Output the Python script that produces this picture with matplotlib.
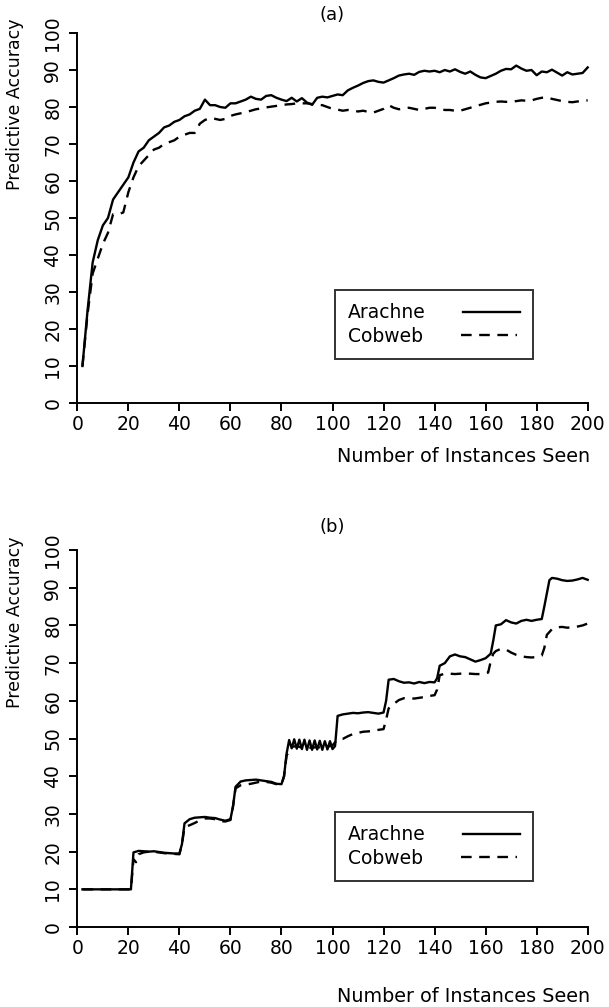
import matplotlib

matplotlib.use("Agg")

import matplotlib.pyplot as plt
import numpy as np


# (a) learning curves, sampled every 2 instances
TOP_X = list(range(2, 201, 2))
TOP_ARACHNE = [
    10, 25, 38, 44, 48, 50, 55, 57, 59, 61,
    65, 68, 69, 71, 72, 73, 74.5, 75, 76, 76.5,
    77.5, 78, 79, 79.5, 82, 80.5, 80.5, 80, 79.8, 81,
    81, 81.5, 82, 82.8, 82.2, 82, 83, 83.2, 82.5, 82,
    81.6, 82.5, 81.5, 82.4, 81.2, 80.6, 82.5, 82.8, 82.6, 83,
    83.4, 83.2, 84.5, 85.2, 85.8, 86.5, 87, 87.2, 86.8, 86.6,
    87.2, 87.8, 88.5, 88.8, 89, 88.7, 89.5, 89.8, 89.6, 89.8,
    89.4, 90, 89.6, 90.2, 89.5, 89, 89.6, 88.7, 88, 87.8,
    88.4, 89, 89.8, 90.3, 90.2, 91.2, 90.4, 89.8, 90, 88.6,
    89.6, 89.4, 90.1, 89.3, 88.5, 89.4, 88.8, 89, 89.2, 90.7,
]
TOP_COBWEB = [
    10, 24, 35, 39, 43, 46, 51, 51, 51.5, 57,
    61, 64, 65.5, 67, 68.5, 69, 70, 70.5, 71, 72,
    72.5, 73, 73, 75.5, 76.5, 77, 76.8, 76.5, 76.8, 77.6,
    78, 78.3, 78.6, 79, 79.4, 79.6, 79.9, 80.1, 80.3, 80.5,
    80.7, 80.8, 81, 81, 81, 80.8, 80.6, 80.5, 80, 79.5,
    79.3, 79, 79.2, 79, 78.8, 79, 78.7, 78.5, 79, 79.5,
    80.5, 79.8, 79.4, 79.6, 79.8, 79.5, 79.2, 79.5, 79.8, 79.8,
    79.5, 79.2, 79.2, 79, 79, 79.4, 79.8, 80.3, 80.6, 81,
    81.2, 81.4, 81.5, 81.4, 81.4, 81.6, 81.8, 81.7, 81.8, 82.2,
    82.5, 82.6, 82.2, 81.9, 81.6, 81.4, 81.3, 81.5, 81.7, 81.8,
]

# (b) staircase curves
BOT_ARACHNE_X = [
    2, 21, 22, 24, 26, 28, 30, 32, 34, 36, 38, 40,
    41, 42, 44, 46, 48, 50, 52, 54, 56, 58, 60,
    61, 62, 64, 66, 68, 70, 72, 74, 76, 78, 80,
    81, 82, 83, 84, 85, 86, 87, 88, 89, 90, 91, 92, 93, 94, 95, 96, 97, 98, 99, 100,
    101, 102, 104, 106, 108, 110, 112, 114, 116, 118, 120,
    121, 122, 124, 126, 128, 130, 132, 134, 136, 138, 140,
    141, 142, 144, 146, 148, 150, 152, 154, 156, 158, 160, 162,
    163, 164, 166, 168, 170, 172, 174, 176, 178, 180, 182,
    183, 185, 186, 188, 190, 192, 194, 196, 198, 200,
]
BOT_ARACHNE = [
    10, 10, 19.8, 20.2, 20.1, 20.0, 20.1, 19.9, 19.7, 19.6, 19.5, 19.5,
    22, 27.5, 28.6, 29.0, 29.1, 29.2, 29.0, 28.9, 28.5, 28.2, 28.6,
    32, 37.2, 38.6, 38.9, 39.0, 39.1, 38.9, 38.7, 38.5, 38.0, 37.9,
    40, 46, 49.6, 47.4, 49.8, 47.3, 49.7, 47.2, 49.7, 47.0, 49.5, 47.0, 49.5, 47.1, 49.4, 47.0, 49.3, 47.1, 49.3, 47.2,
    48, 56.0, 56.4, 56.6, 56.8, 56.7, 56.9, 57.0, 56.8, 56.6, 56.9,
    60, 65.6, 65.8, 65.2, 64.8, 64.9, 64.6, 65.0, 64.7, 65.0, 64.9,
    66, 69.3, 70.0, 71.8, 72.3, 71.8, 71.6, 71.0, 70.4, 70.8, 71.3, 72.5,
    76, 80.0, 80.3, 81.4, 80.8, 80.5, 81.2, 81.5, 81.2, 81.5, 81.7,
    85, 92.0, 92.6, 92.4, 92.0, 91.8, 91.9, 92.2, 92.6, 92.1,
]
BOT_COBWEB_X = [
    2, 21, 22, 23, 24, 26, 28, 30, 32, 34, 36, 38, 40,
    41, 42, 44, 46, 48, 50, 52, 54, 56, 58, 60,
    61, 62, 64, 66, 68, 70, 72, 74, 76, 78, 80,
    81, 82, 84, 86, 88, 90, 92, 94, 96, 98, 100,
    102, 104, 106, 108, 110, 112, 114, 116, 118, 120,
    121, 122, 124, 126, 128, 130, 132, 134, 136, 138, 140,
    141, 142, 144, 146, 148, 150, 152, 154, 156, 158, 160,
    161, 162, 163, 164, 166, 168, 170, 172, 174, 176, 178, 180, 182,
    183, 184, 186, 188, 190, 192, 194, 196, 198, 200,
]
BOT_COBWEB = [
    10, 10, 18, 17.2, 19.3, 19.8, 20.0, 19.9, 19.8, 19.6, 19.5, 19.4, 19.3,
    22, 26.5, 27.0, 27.6, 28.3, 28.8, 28.8, 28.6, 28.1, 28.0, 28.4,
    32, 36.8, 37.6, 37.8, 38.0, 38.3, 38.6, 38.5, 38.3, 37.9, 37.8,
    40, 45.5, 47.8, 48.0, 47.6, 47.5, 47.6, 47.7, 47.6, 47.8, 48.2,
    49.8, 49.9, 50.6, 51.2, 51.5, 51.8, 51.9, 52.0, 52.3, 52.5,
    55, 58.0, 59.2, 60.2, 60.7, 60.7, 60.6, 60.8, 61.0, 61.3, 61.5,
    63, 66.8, 67.2, 67.2, 67.1, 67.2, 67.2, 67.2, 67.1, 67.1, 67.3,
    67.5, 70.5, 72.5, 73.2, 73.8, 73.6, 72.8, 72.2, 71.8, 71.6, 71.5, 71.6, 72.0,
    74, 77.5, 79.0, 79.5, 79.6, 79.4, 79.5, 79.7, 80.0, 80.5,
]

X_TICKS = list(range(0, 201, 20))
Y_TICKS = list(range(0, 101, 10))

plt.rcParams.update(
    {
        "font.family": "DejaVu Sans",
        "font.size": 13,
        "axes.linewidth": 1.4,
        "xtick.major.width": 1.4,
        "ytick.major.width": 1.4,
        "xtick.major.size": 5.8,
        "ytick.major.size": 5.8,
    }
)

DASH = (0, (4.5, 3.2))


def panel(ax, tag, xa, ya, xc, yc, xlabel_y, tag_y):
    ax.plot(xa, ya, color="black", lw=1.7, label="Arachne", clip_on=False)
    ax.plot(xc, yc, color="black", lw=1.7, ls=DASH, label="Cobweb", clip_on=False)
    ax.set_xlim(0, 200)
    ax.set_ylim(0, 100)
    ax.set_xticks(X_TICKS)
    ax.set_yticks(Y_TICKS)
    ax.tick_params(axis="x", labelsize=13.5, pad=3)
    ax.tick_params(axis="y", labelsize=13.5, pad=5, labelrotation=90)
    for lab in ax.get_yticklabels():
        lab.set_verticalalignment("center")
    ax.spines["top"].set_visible(False)
    ax.spines["right"].set_visible(False)
    ax.set_xlabel("Number of Instances Seen", fontsize=13.8, ha="right")
    ax.xaxis.set_label_coords(1.005, xlabel_y)
    ax.set_ylabel("Predictive Accuracy", fontsize=12.5)
    ax.yaxis.set_label_coords(-0.104, 0.808)
    ax.text(0.5, tag_y, tag, transform=ax.transAxes, ha="center", va="center", fontsize=13)
    leg = ax.legend(
        loc="upper left",
        bbox_to_anchor=(0.505, 0.305),
        frameon=True,
        fancybox=False,
        edgecolor="black",
        markerfirst=False,
        handlelength=3.0,
        handletextpad=2.0,
        borderpad=0.7,
        borderaxespad=0,
        labelspacing=0.25,
        fontsize=13.5,
    )
    leg.get_frame().set_linewidth(1.4)
    # keep the names flush left, with the line samples after them
    for col in leg._legend_handle_box.get_children():
        col.align = "left"


fig = plt.figure(figsize=(6.09, 10.07), dpi=100)
ax_a = fig.add_axes([0.127, 0.5998, 0.838, 0.3674])
ax_b = fig.add_axes([0.127, 0.0794, 0.838, 0.3744])

panel(ax_a, "(a)", TOP_X, TOP_ARACHNE, TOP_X, TOP_COBWEB, -0.118, 1.049)
panel(ax_b, "(b)", BOT_ARACHNE_X, BOT_ARACHNE, BOT_COBWEB_X, BOT_COBWEB, -0.158, 1.061)

fig.savefig("out.png", dpi=100)
